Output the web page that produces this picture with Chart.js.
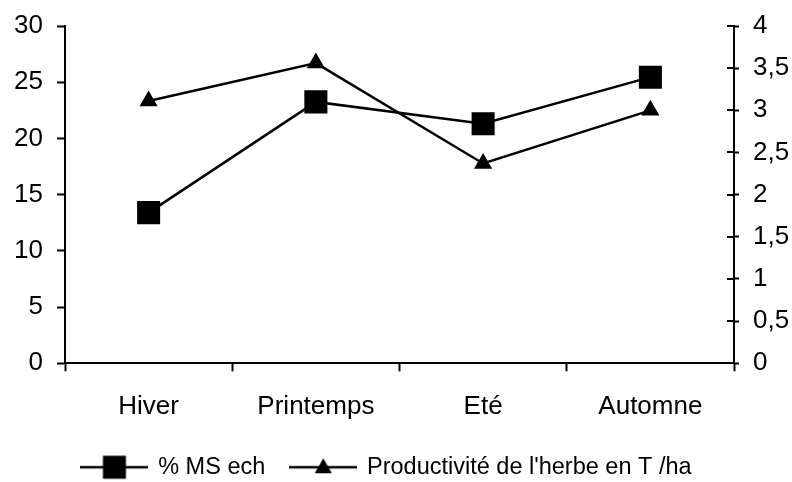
<!DOCTYPE html>
<html>
<head>
<meta charset="utf-8">
<script src="https://cdn.jsdelivr.net/npm/chart.js@4/dist/chart.umd.min.js"></script>
<style>
  body { margin: 0; background: #fff; }
  #wrap { width: 792px; height: 482px; }
</style>
</head>
<body>
<div id="wrap"><canvas id="chart" width="792" height="482"></canvas></div>
<script>
const categories = ["Hiver", "Printemps", "Eté", "Automne"];
const msEch = [13.4, 23.25, 21.3, 25.45];
const productivite = [3.11, 3.56, 2.37, 3.0];
const leftRange = [0, 30, 5];
const rightRange = [0, 4, 0.5];

const FONT = "'Liberation Sans', Arial, sans-serif";

// small canvas used as legend symbol: line with the marker in the middle
function legendSymbol(kind) {
    const c = document.createElement("canvas");
    c.width = 68;
    c.height = 26;
    const g = c.getContext("2d");
    g.fillStyle = "#000";
    g.strokeStyle = "#000";
    g.lineWidth = 2.5;
    g.beginPath();
    g.moveTo(0, 13);
    g.lineTo(68, 13);
    g.stroke();
    if (kind === "rect") {
        g.fillRect(34 - 11.5, 13 - 11.5, 23, 23);
    } else {
        g.beginPath();
        g.moveTo(34, 4);
        g.lineTo(42.5, 19);
        g.lineTo(25.5, 19);
        g.closePath();
        g.fill();
    }
    return c;
}

// right axis ticks cross the axis line
const innerTicks = {
    id: "innerTicks",
    afterDraw(chart) {
        const scale = chart.scales.y2;
        const ctx = chart.ctx;
        ctx.save();
        ctx.strokeStyle = "#000";
        ctx.lineWidth = 2;
        scale.ticks.forEach((t, i) => {
            const y = Math.round(scale.getPixelForTick(i));
            ctx.beginPath();
            ctx.moveTo(scale.left - 7, y);
            ctx.lineTo(scale.left, y);
            ctx.stroke();
        });
        ctx.restore();
    }
};

// legend placement tweak to match the original
const shiftLegend = {
    id: "shiftLegend",
    afterLayout(chart) {
        const dx = -14, dy = -13;
        chart.legend.left += dx;
        chart.legend.right += dx;
        chart.legend.top += dy;
        chart.legend.bottom += dy;
    }
};

function fixY(width) {
    return s => {
        s.width = width;
        s.paddingTop = 0;
        s.paddingBottom = 0;
    };
}

const ctx = document.getElementById("chart").getContext("2d");

new Chart(ctx, {
    type: "line",
    data: {
        labels: categories,
        datasets: [{
            label: "% MS ech",
            data: msEch,
            yAxisID: "y",
            borderColor: "#000",
            backgroundColor: "#000",
            borderWidth: 2.5,
            pointStyle: "rect",
            pointRadius: 16.3,
            pointBorderWidth: 0,
            tension: 0
        }, {
            label: "Productivité de l'herbe en T /ha",
            data: productivite,
            yAxisID: "y2",
            borderColor: "#000",
            backgroundColor: "#000",
            borderWidth: 2.5,
            pointStyle: "triangle",
            pointRadius: 10.5,
            pointBorderWidth: 0,
            tension: 0
        }]
    },
    options: {
        responsive: false,
        animation: false,
        layout: { autoPadding: false, padding: { left: 12, right: 2, top: 26, bottom: -20 } },
        plugins: {
            tooltip: { enabled: false },
            legend: {
                position: "bottom",
                labels: {
                    color: "#000",
                    font: { family: FONT, size: 23.5 },
                    usePointStyle: true,
                    pointStyleWidth: 64,
                    padding: 26,
                    generateLabels(chart) {
                        const items = Chart.defaults.plugins.legend.labels.generateLabels(chart);
                        items[0].pointStyle = legendSymbol("rect");
                        items[1].pointStyle = legendSymbol("triangle");
                        return items;
                    }
                }
            }
        },
        scales: {
            x: {
                offset: true,
                grid: {
                    offset: true,
                    drawOnChartArea: false,
                    tickLength: 8,
                    tickWidth: 2,
                    tickColor: "#000"
                },
                border: { color: "#000", width: 2 },
                ticks: {
                    color: "#000",
                    font: { family: FONT, size: 26 },
                    padding: 20,
                    maxRotation: 0
                }
            },
            y: {
                position: "left",
                min: leftRange[0],
                max: leftRange[1],
                afterFit: fixY(53),
                grid: {
                    drawOnChartArea: false,
                    tickLength: 8,
                    tickWidth: 2,
                    tickColor: "#000"
                },
                border: { color: "#000", width: 2 },
                ticks: {
                    stepSize: leftRange[2],
                    color: "#000",
                    font: { family: FONT, size: 26 },
                    padding: 14
                }
            },
            y2: {
                position: "right",
                min: rightRange[0],
                max: rightRange[1],
                afterFit: fixY(56),
                grid: {
                    drawOnChartArea: false,
                    tickLength: 5,
                    tickWidth: 2,
                    tickColor: "#000"
                },
                border: { color: "#000", width: 2 },
                ticks: {
                    stepSize: rightRange[2],
                    color: "#000",
                    font: { family: FONT, size: 26 },
                    padding: 14,
                    callback: v => String(v).replace(".", ",")
                }
            }
        }
    },
    plugins: [innerTicks, shiftLegend]
});
</script>
</body>
</html>
